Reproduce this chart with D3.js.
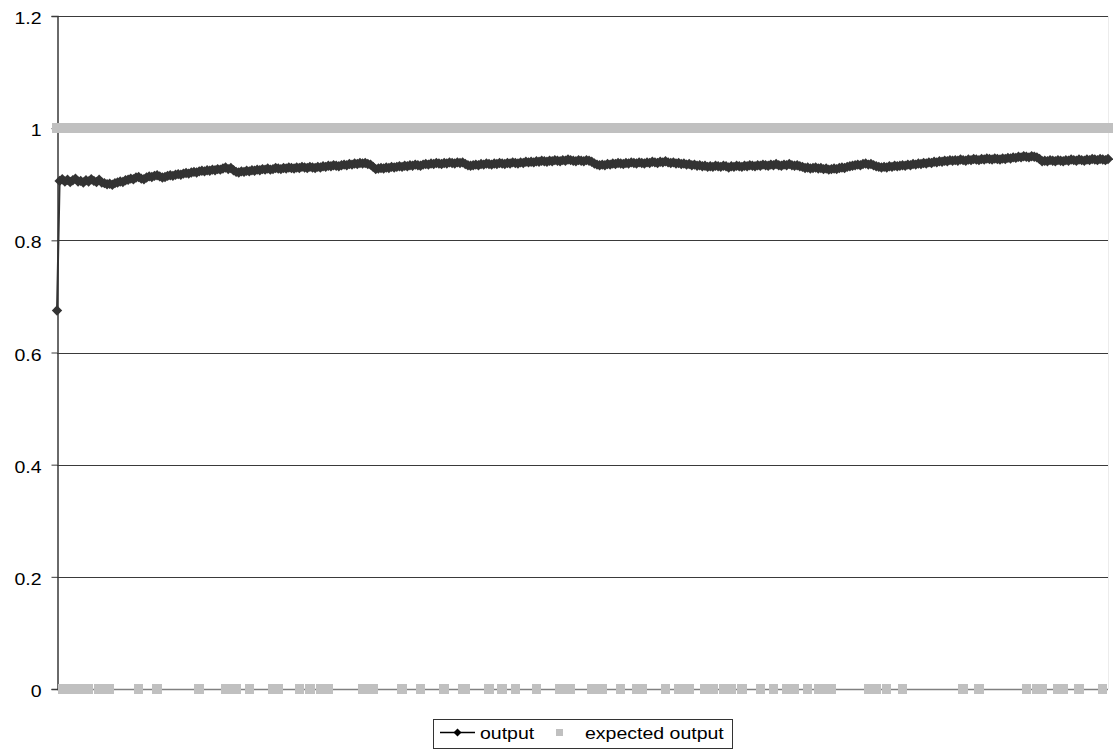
<!DOCTYPE html>
<html>
<head>
<meta charset="utf-8">
<script src="https://cdn.jsdelivr.net/npm/d3@7"></script>
<style>
  html, body { margin: 0; padding: 0; background: #fff; }
  text { font-family: "Liberation Sans", Arial, sans-serif; font-size: 16px; fill: #000; }
</style>
</head>
<body>
<svg id="chart" width="1113" height="751"></svg>
<script>
// Network output per sample
const outputValues = [
  0.675, 0.906, 0.909, 0.905, 0.908, 0.904, 0.907, 0.910, 0.905, 0.906, 0.903, 0.907, 0.905, 0.909, 0.906, 0.904, 0.908, 0.903, 0.902, 0.900,
  0.901, 0.899, 0.902, 0.903, 0.905, 0.904, 0.907, 0.908, 0.910, 0.909, 0.912, 0.913, 0.910, 0.909, 0.912, 0.914, 0.913, 0.915, 0.916, 0.914,
  0.912, 0.913, 0.915, 0.916, 0.915, 0.917, 0.918, 0.917, 0.919, 0.920, 0.919, 0.921, 0.922, 0.921, 0.923, 0.924, 0.923, 0.925, 0.924, 0.926,
  0.925, 0.927, 0.926, 0.928, 0.930, 0.927, 0.929, 0.925, 0.922, 0.921, 0.923, 0.922, 0.924, 0.923, 0.925, 0.924, 0.926, 0.925, 0.927, 0.926,
  0.928, 0.926, 0.927, 0.929, 0.928, 0.927, 0.929, 0.928, 0.930, 0.929, 0.928, 0.930, 0.929, 0.931, 0.930, 0.929, 0.931, 0.930, 0.929, 0.931,
  0.930, 0.932, 0.931, 0.933, 0.932, 0.934, 0.933, 0.932, 0.934, 0.935, 0.934, 0.936, 0.935, 0.937, 0.936, 0.938, 0.937, 0.938, 0.936, 0.935,
  0.931, 0.927, 0.928, 0.929, 0.928, 0.930, 0.929, 0.931, 0.930, 0.931, 0.932, 0.931, 0.933, 0.932, 0.934, 0.933, 0.935, 0.934, 0.933, 0.935,
  0.936, 0.935, 0.937, 0.936, 0.938, 0.937, 0.936, 0.938, 0.937, 0.939, 0.938, 0.937, 0.939, 0.938, 0.939, 0.936, 0.934, 0.933, 0.934, 0.935,
  0.934, 0.936, 0.935, 0.937, 0.936, 0.935, 0.937, 0.936, 0.938, 0.937, 0.936, 0.938, 0.937, 0.939, 0.938, 0.937, 0.939, 0.938, 0.940, 0.939,
  0.940, 0.939, 0.941, 0.940, 0.942, 0.941, 0.940, 0.942, 0.941, 0.943, 0.942, 0.941, 0.943, 0.942, 0.944, 0.943, 0.942, 0.941, 0.943, 0.942,
  0.941, 0.943, 0.942, 0.940, 0.937, 0.935, 0.934, 0.935, 0.934, 0.936, 0.935, 0.937, 0.936, 0.938, 0.937, 0.936, 0.938, 0.937, 0.939, 0.938,
  0.937, 0.939, 0.938, 0.937, 0.939, 0.938, 0.940, 0.939, 0.938, 0.940, 0.939, 0.941, 0.939, 0.938, 0.939, 0.937, 0.938, 0.936, 0.937, 0.935,
  0.936, 0.934, 0.935, 0.933, 0.934, 0.932, 0.933, 0.931, 0.932, 0.931, 0.933, 0.932, 0.931, 0.933, 0.932, 0.930, 0.932, 0.931, 0.933, 0.932,
  0.931, 0.933, 0.932, 0.934, 0.933, 0.932, 0.934, 0.933, 0.935, 0.934, 0.933, 0.935, 0.934, 0.936, 0.934, 0.933, 0.935, 0.934, 0.936, 0.934,
  0.933, 0.934, 0.932, 0.931, 0.929, 0.930, 0.928, 0.929, 0.930, 0.928, 0.929, 0.927, 0.928, 0.926, 0.927, 0.928, 0.927, 0.929, 0.930, 0.929,
  0.931, 0.932, 0.933, 0.934, 0.935, 0.934, 0.936, 0.937, 0.935, 0.936, 0.934, 0.932, 0.931, 0.930, 0.931, 0.930, 0.932, 0.931, 0.933, 0.932,
  0.933, 0.934, 0.933, 0.935, 0.934, 0.936, 0.935, 0.937, 0.936, 0.938, 0.937, 0.939, 0.938, 0.940, 0.939, 0.941, 0.940, 0.942, 0.941, 0.943,
  0.942, 0.943, 0.942, 0.944, 0.943, 0.942, 0.944, 0.943, 0.945, 0.944, 0.943, 0.945, 0.944, 0.946, 0.945, 0.944, 0.946, 0.945, 0.944, 0.946,
  0.945, 0.947, 0.946, 0.948, 0.947, 0.949, 0.948, 0.950, 0.949, 0.948, 0.950, 0.949, 0.948, 0.945, 0.941, 0.942, 0.941, 0.943, 0.942, 0.941,
  0.943, 0.942, 0.941, 0.943, 0.942, 0.944, 0.943, 0.942, 0.944, 0.943, 0.942, 0.944, 0.943, 0.945, 0.944, 0.943, 0.945, 0.944, 0.943, 0.945
];

// Target value per sample
const expectedValues = [
  1,1,0,1,0,1,0,1,0,1,0,1,0,1,1,1,0,1,0,1,
  0,1,1,1,1,1,1,1,1,1,1,0,1,1,1,1,1,1,0,1,
  1,1,1,1,1,1,1,1,1,1,1,1,1,1,0,1,1,1,1,1,
  1,1,1,1,0,1,0,1,0,1,1,1,1,0,1,1,1,1,1,1,
  1,1,0,1,0,1,1,1,1,1,1,1,0,1,1,1,0,1,1,1,
  0,1,0,0,1,1,1,1,1,1,1,1,1,1,1,1,0,1,0,1,
  0,1,1,1,1,1,1,1,1,1,1,0,1,1,1,1,1,1,0,1,
  1,1,1,1,1,1,1,0,1,1,1,1,1,1,0,0,1,1,1,1,
  1,1,1,1,0,1,1,1,1,0,1,1,1,1,0,1,1,1,1,1,
  1,1,0,1,1,1,1,1,1,1,1,0,1,0,1,0,1,1,1,1,
  1,1,1,0,1,0,1,0,1,1,1,1,1,1,0,1,1,1,1,1,
  0,1,0,1,1,1,1,1,1,1,1,0,1,1,1,1,0,1,0,1,
  0,1,1,1,1,1,0,1,0,0,1,1,1,0,1,0,0,1,1,1,
  0,1,1,1,1,1,1,0,1,1,1,1,0,1,1,1,1,0,1,0,
  0,1,1,1,1,0,1,1,1,0,1,0,1,0,0,1,1,1,1,1,
  1,1,1,1,1,1,1,1,0,1,0,0,1,1,1,0,1,1,1,1,
  1,0,1,1,1,1,1,1,1,1,1,1,1,1,1,1,1,1,1,1,
  1,1,1,1,0,1,1,1,1,1,0,1,1,1,1,1,1,1,1,1,
  1,1,1,1,1,1,1,1,0,1,1,1,0,1,0,1,1,1,1,1,
  0,1,0,1,1,1,1,1,0,1,1,1,1,1,1,1,1,0,1,1
];

const samples = outputValues.map((_, i) => i + 1);
const yTicks = [0, 0.2, 0.4, 0.6, 0.8, 1, 1.2];
const seriesNames = ["output", "expected output"];

const W = 1113, H = 751;
const plot = { left: 57, right: 1108, top: 16, bottom: 689 };
const textStretch = 1.22;
const outputColor = "#333333";
const expectedColor = "#c0c0c0";

const svg = d3.select("#chart");
svg.append("rect").attr("width", W).attr("height", H).attr("fill", "#fff");

const x = d3.scalePoint().domain(samples).range([plot.left, plot.right]);
const y = d3.scaleLinear().domain([0, 1.2]).range([plot.bottom, plot.top]);

// Horizontal gridlines
svg.append("g")
  .selectAll("line")
  .data(yTicks.filter(t => t > 0))
  .join("line")
  .attr("x1", plot.left).attr("x2", plot.right)
  .attr("y1", d => Math.round(y(d)) + 0.5).attr("y2", d => Math.round(y(d)) + 0.5)
  .attr("stroke", "#3a3a3a").attr("stroke-width", 1);

// Right border of the plot area
svg.append("line")
  .attr("x1", plot.right + 0.5).attr("x2", plot.right + 0.5)
  .attr("y1", plot.top).attr("y2", plot.bottom)
  .attr("stroke", "#ececec");

// Category axis (no labels)
svg.append("line")
  .attr("x1", plot.left).attr("x2", plot.right)
  .attr("y1", plot.bottom + 0.5).attr("y2", plot.bottom + 0.5)
  .attr("stroke", "#808080").attr("stroke-width", 1.5);

// Value axis
const yAxis = d3.axisLeft(y).tickValues(yTicks).tickSize(6).tickFormat(d3.format("~g"));
const yAxisG = svg.append("g")
  .attr("transform", `translate(${plot.left + 0.5},0)`)
  .call(yAxis);
yAxisG.select(".domain").attr("stroke", "#3a3a3a").attr("stroke-width", 1.5);
yAxisG.selectAll(".tick line").attr("stroke", "#3a3a3a");
yAxisG.selectAll(".tick text")
  .attr("x", null).attr("dy", null)
  .attr("font-size", 16.5)
  .attr("font-family", "Liberation Sans, Arial, sans-serif")
  .attr("fill", "#000")
  .attr("text-anchor", "end")
  .attr("transform", `translate(-16,7.5) scale(${textStretch},1)`);

// Diamond marker path
const diamond = r => `M0,${-r}L${r},0L0,${r}L${-r},0Z`;

// Expected output: square markers only
svg.append("g")
  .attr("shape-rendering", "crispEdges")
  .selectAll("rect")
  .data(samples)
  .join("rect")
  .attr("x", (d, i) => x(d) - 4.75)
  .attr("y", (d, i) => y(expectedValues[i]) - 4.75)
  .attr("width", 9.5).attr("height", 9.5)
  .attr("fill", expectedColor);

// Output: line with diamond markers
const line = d3.line()
  .x((d, i) => x(samples[i]))
  .y(d => y(d));
svg.append("path")
  .datum(outputValues)
  .attr("d", line)
  .attr("fill", "none")
  .attr("stroke", outputColor)
  .attr("stroke-width", 2);

svg.append("g")
  .selectAll("path")
  .data(outputValues)
  .join("path")
  .attr("transform", (d, i) => `translate(${x(samples[i])},${y(d)})`)
  .attr("d", diamond(5.2))
  .attr("fill", outputColor);

// Legend
const legend = svg.append("g");
legend.append("rect")
  .attr("x", 433.5).attr("y", 719.5).attr("width", 299).attr("height", 29)
  .attr("fill", "#fff").attr("stroke", "#333").attr("stroke-width", 1);

legend.append("line")
  .attr("x1", 440).attr("x2", 475).attr("y1", 732.5).attr("y2", 732.5)
  .attr("stroke", "#000").attr("stroke-width", 1.5);
legend.append("path")
  .attr("transform", "translate(457.5,732.5)")
  .attr("d", diamond(4))
  .attr("fill", "#000");
legend.append("text")
  .attr("font-size", 16.5)
  .attr("transform", `translate(480,738.5) scale(${textStretch},1)`)
  .text(seriesNames[0]);

legend.append("rect")
  .attr("x", 556).attr("y", 729).attr("width", 7).attr("height", 7)
  .attr("fill", expectedColor);
legend.append("text")
  .attr("font-size", 16.5)
  .attr("transform", `translate(585,738.5) scale(${textStretch},1)`)
  .text(seriesNames[1]);
</script>
</body>
</html>
